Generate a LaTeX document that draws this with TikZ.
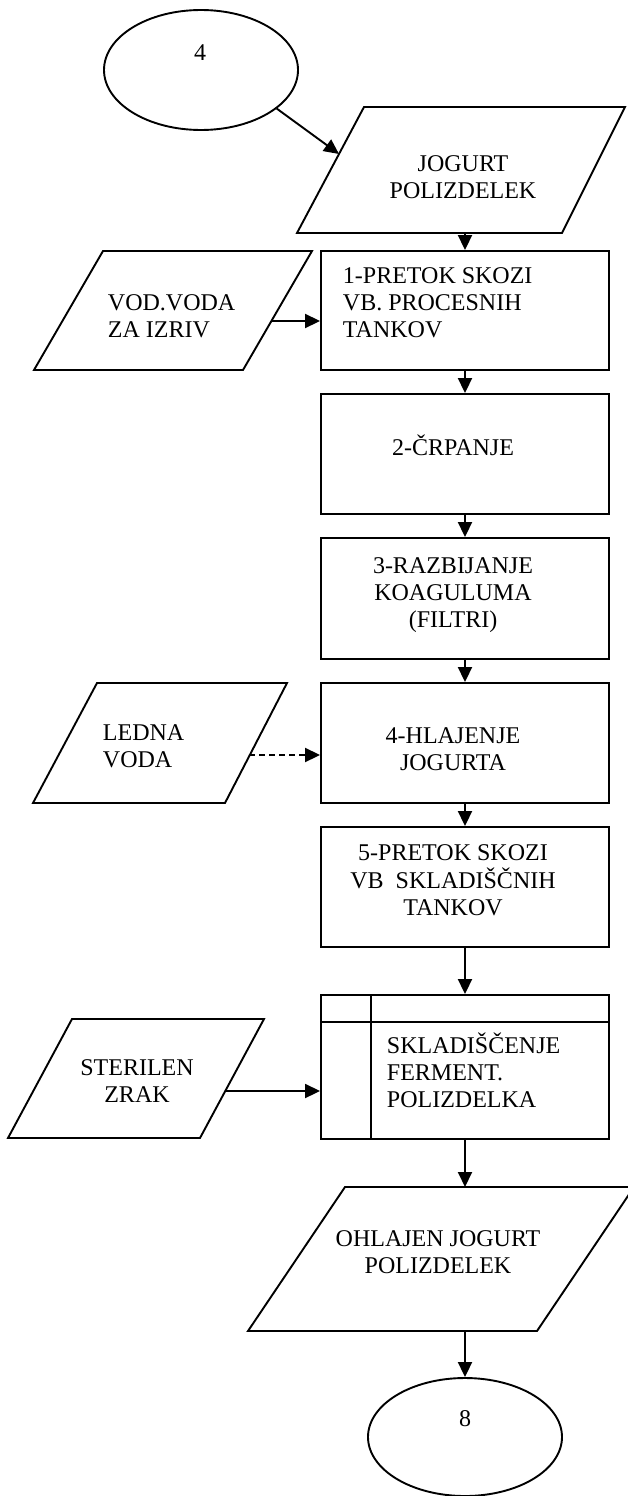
\documentclass[tikz,border=0pt]{standalone}
\usepackage{fontspec}
\setmainfont{Liberation Serif}
\usetikzlibrary{arrows.meta,shapes.geometric}
% multi-line labels whose baseline is that of their first line
\newcommand\ctab[1]{\begin{tabular}[t]{@{}c@{}}#1\end{tabular}}
\newcommand\ltab[1]{\begin{tabular}[t]{@{}l@{}}#1\end{tabular}}

\begin{document}
\begin{tikzpicture}[x=1pt,y=-1pt,line width=1.9pt,
  font=\fontsize{24}{27}\selectfont,
  lbl/.style={inner sep=0pt,anchor=base},
  lbll/.style={inner sep=0pt,anchor=base west},
  stepbox/.style={draw,rectangle,minimum width=288pt,inner sep=0pt},
  conn/.style={draw,ellipse,minimum width=194pt,minimum height=120pt,inner sep=0pt},
  io/.style={draw,line join=miter},
  arr/.style={-{Triangle[length=15pt,width=14pt]}}]

\useasboundingbox (0,0) rectangle (627,1496);

% connector 4
\node[conn] (e4) at (201,70) {};
\node[lbl] (t4) at (200,60) {4};

% input: JOGURT POLIZDELEK
\coordinate (jo1) at (364,107);
\coordinate (jo2) at (625,107);
\coordinate (jo3) at (562,233);
\coordinate (jo4) at (297,233);
\draw[io] (jo1) -- (jo2) -- (jo3) -- (jo4) -- cycle;
\coordinate (jo-in) at (339,154);
\coordinate (jo-out) at (465,233);
\node[lbl] (tjo) at (463,171) {\ctab{JOGURT\\POLIZDELEK}};

% process steps
\node[stepbox,minimum height=119pt] (b1) at (465,310.5) {};
\node[lbll] (tb1) at (342,283) {\ltab{1-PRETOK SKOZI\\VB. PROCESNIH\\TANKOV}};

\node[stepbox,minimum height=120pt] (b2) at (465,454) {};
\node[lbl] (tb2) at (453,455) {2-ČRPANJE};

\node[stepbox,minimum height=121pt] (b3) at (465,598.5) {};
\node[lbl] (tb3) at (453,573) {\ctab{3-RAZBIJANJE\\KOAGULUMA\\(FILTRI)}};

\node[stepbox,minimum height=120pt] (b4) at (465,743) {};
\node[lbl] (tb4) at (453,743) {\ctab{4-HLAJENJE\\JOGURTA}};

\node[stepbox,minimum height=120pt] (b5) at (465,887) {};
\node[lbl] (tb5) at (453,860) {\ctab{5-PRETOK SKOZI\\VB\ \ SKLADIŠČNIH\\TANKOV}};

% storage block with header strip and side column
\node[stepbox,minimum height=144pt] (bs) at (465,1067) {};
\draw ([yshift=-28pt]bs.north west) -- ([yshift=-28pt]bs.north east);
\draw ([xshift=51pt]bs.north west) -- ([xshift=51pt]bs.south west);
\node[lbll] (tbs) at (386,1053) {\ltab{SKLADIŠČENJE\\FERMENT.\\POLIZDELKA}};

% input: VOD.VODA ZA IZRIV
\coordinate (vo1) at (103,251);
\coordinate (vo2) at (312,251);
\coordinate (vo3) at (243,370);
\coordinate (vo4) at (34,370);
\draw[io] (vo1) -- (vo2) -- (vo3) -- (vo4) -- cycle;
\coordinate (vo-out) at (271,321);
\node[lbll] (tvo) at (107,310) {\ltab{VOD.VODA\\ZA IZRIV}};

% input: LEDNA VODA
\coordinate (le1) at (97,683);
\coordinate (le2) at (287,683);
\coordinate (le3) at (225,803);
\coordinate (le4) at (33,803);
\draw[io] (le1) -- (le2) -- (le3) -- (le4) -- cycle;
\coordinate (le-out) at (249,755);
\node[lbll] (tle) at (102,740) {\ltab{LEDNA\\VODA}};

% input: STERILEN ZRAK
\coordinate (st1) at (72,1019);
\coordinate (st2) at (264,1019);
\coordinate (st3) at (200,1138);
\coordinate (st4) at (8,1138);
\draw[io] (st1) -- (st2) -- (st3) -- (st4) -- cycle;
\coordinate (st-out) at (225,1091);
\node[lbl] (tst) at (137,1075) {\ctab{STERILEN\\ZRAK}};

% output: OHLAJEN JOGURT POLIZDELEK
\coordinate (oh1) at (345,1187);
\coordinate (oh2) at (634,1187);
\coordinate (oh3) at (537,1331);
\coordinate (oh4) at (248,1331);
\draw[io] (oh1) -- (oh2) -- (oh3) -- (oh4) -- cycle;
\coordinate (oh-in) at (465,1187);
\coordinate (oh-out) at (465,1331);
\node[lbl] (toh) at (438,1246) {\ctab{OHLAJEN JOGURT\\POLIZDELEK}};

% connector 8
\node[conn,minimum height=118pt] (e8) at (465,1437) {};
\node[lbl] (t8) at (465,1426) {8};

% flow
\draw[arr] (e4.-27) -- (jo-in);
\draw[arr] (jo-out) -- (b1.north);
\draw[arr] (b1.south) -- (b2.north);
\draw[arr] (b2.south) -- (b3.north);
\draw[arr] (b3.south) -- (b4.north);
\draw[arr] (b4.south) -- (b5.north);
\draw[arr] (b5.south) -- (bs.north);
\draw[arr] (bs.south) -- (oh-in);
\draw[arr] (oh-out) -- (e8.north);
\draw[arr] (vo-out) -- (vo-out -| b1.west);
\draw[arr,dashed,dash pattern=on 6pt off 4pt] (le-out) -- (le-out -| b4.west);
\draw[arr] (st-out) -- (st-out -| bs.west);
\end{tikzpicture}
\end{document}
